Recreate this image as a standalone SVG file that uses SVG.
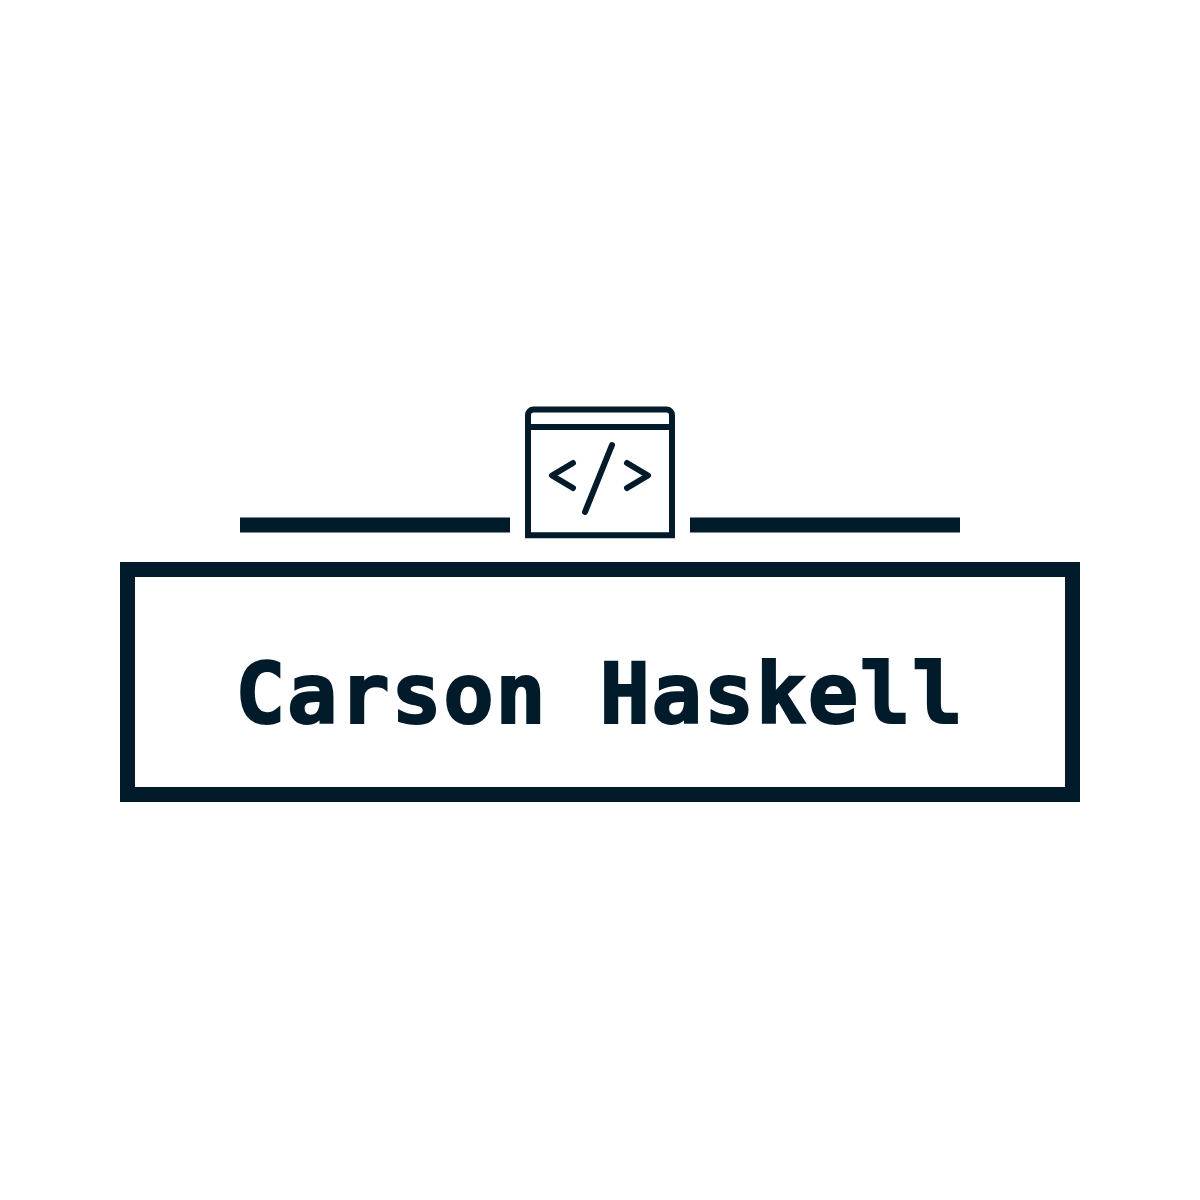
<svg xmlns="http://www.w3.org/2000/svg" width="1200" height="1200" viewBox="0 0 1200 1200">
<style>
.i{fill:none;stroke:#011b2a;stroke-width:6}
.r{stroke-linecap:round;stroke-linejoin:round}
.b{fill:#011b2a}
text{font-family:"DejaVu Sans Mono","Liberation Mono",monospace;font-weight:700;font-size:84px;letter-spacing:1.5px;fill:#011b2a;stroke:#011b2a;stroke-width:2px}
</style>
<rect width="1200" height="1200" fill="#fff"/>
<g id="frame"><rect x="127.500" y="569.500" width="945" height="225" fill="none" stroke="#011b2a" stroke-width="15"/></g>
<g id="bar-left"><rect class="b" x="240" y="517.500" width="270" height="15"/></g>
<g id="bar-right"><rect class="b" x="690" y="517.500" width="270" height="15"/></g>
<g id="icon">
<path class="i" d="M528 535.300V415a5.500 5.500 0 0 1 5.500-5.500H666.500a5.500 5.500 0 0 1 5.500 5.500V535.300Z"/>
<path class="i" d="M528 427H672"/>
<path class="i r" d="M573 463L552 475.500L573 488M627 463L648 475.500L627 488M612 445L585 512"/>
</g>
<text id="name" x="235" y="723">Carson Haskell</text>
</svg>
